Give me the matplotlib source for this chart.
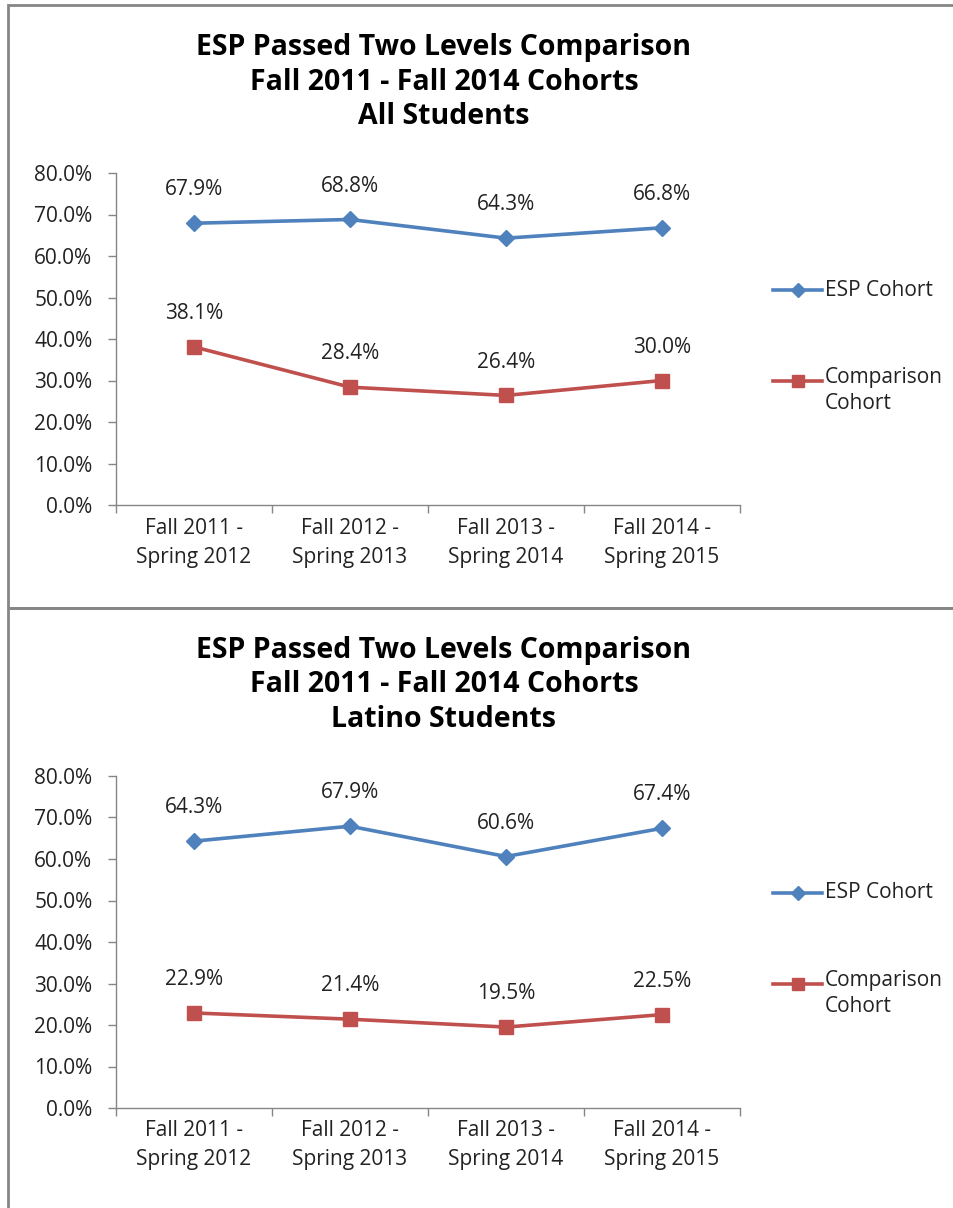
import matplotlib
matplotlib.use("Agg")
import matplotlib.pyplot as plt
from matplotlib.lines import Line2D
from matplotlib.patches import Rectangle
from matplotlib.ticker import FixedLocator, FuncFormatter

plt.rcParams['font.family'] = ['Open Sans', 'DejaVu Sans']

categories = ["Fall 2011 -\nSpring 2012", "Fall 2012 -\nSpring 2013",
              "Fall 2013 -\nSpring 2014", "Fall 2014 -\nSpring 2015"]
series_names = ["ESP Cohort", "Comparison\nCohort"]
titles = ["ESP Passed Two Levels Comparison\nFall 2011 - Fall 2014 Cohorts\nAll Students",
          "ESP Passed Two Levels Comparison\nFall 2011 - Fall 2014 Cohorts\nLatino Students"]
all_esp = [67.9, 68.8, 64.3, 66.8]
all_comp = [38.1, 28.4, 26.4, 30.0]
latino_esp = [64.3, 67.9, 60.6, 67.4]
latino_comp = [22.9, 21.4, 19.5, 22.5]
y_ticks = [0, 10, 20, 30, 40, 50, 60, 70, 80]

W, H = 954, 1208
fig = plt.figure(figsize=(W / 100, H / 100), dpi=100)

BLUE = "#4F81BD"
RED = "#C0504D"
GRAY = "#868686"
TXT = "#222222"
FS = 15

def fx(px):
    return px / W

def fy(py):
    return 1 - py / H

# panel borders
fig.patches.append(Rectangle((fx(8), fy(608)), fx(960) - fx(8), fy(5) - fy(608),
                             transform=fig.transFigure, fill=False, edgecolor=GRAY, lw=2))
fig.patches.append(Rectangle((fx(8), fy(1215)), fx(960) - fx(8), fy(608) - fy(1215),
                             transform=fig.transFigure, fill=False, edgecolor=GRAY, lw=2))

panels = [
    (titles[0], all_esp, all_comp, 5),
    (titles[1], latino_esp, latino_comp, 608),
]

for title, esp, comp, top in panels:
    ax_top = top + 168
    ax_bot = top + 500
    ax = fig.add_axes([fx(116), fy(ax_bot), fx(740) - fx(116), fy(ax_top) - fy(ax_bot)])
    x = list(range(len(categories)))
    ax.plot(x, esp, color=BLUE, lw=2.6, marker="D", ms=8, mfc=BLUE, mec=BLUE, zorder=3)
    ax.plot(x, comp, color=RED, lw=2.6, marker="s", ms=10, mfc=RED, mec=RED, zorder=3)
    for xi, v in zip(x, esp):
        ax.annotate(f"{v:.1f}%", (xi, v), xytext=(0, 24), textcoords="offset points",
                    ha="center", va="center", fontsize=FS, color=TXT)
    for xi, v in zip(x, comp):
        ax.annotate(f"{v:.1f}%", (xi, v), xytext=(0, 24), textcoords="offset points",
                    ha="center", va="center", fontsize=FS, color=TXT)
    ax.set_xlim(-0.5, len(categories) - 0.5)
    ax.set_ylim(0, 80)
    ax.set_yticks(y_ticks)
    ax.yaxis.set_major_formatter(FuncFormatter(lambda v, p: f"{v:.1f}%"))
    ax.xaxis.set_major_locator(FixedLocator([i - 0.5 for i in range(len(categories) + 1)]))
    ax.xaxis.set_minor_locator(FixedLocator(x))
    ax.set_xticklabels([""] * (len(categories) + 1))
    ax.set_xticklabels(categories, minor=True)
    ax.tick_params(axis="x", which="major", length=6, width=1, color=GRAY, direction="out")
    ax.tick_params(axis="x", which="minor", length=0, pad=9, labelsize=FS, labelcolor=TXT)
    ax.tick_params(axis="y", length=6, width=1, color=GRAY, direction="out", pad=11,
                   labelsize=FS, labelcolor=TXT)
    for lbl in ax.get_xticklabels(minor=True):
        lbl.set_linespacing(1.5)
    for s in ["top", "right"]:
        ax.spines[s].set_visible(False)
    for s in ["left", "bottom"]:
        ax.spines[s].set_color(GRAY)
        ax.spines[s].set_linewidth(1)
    fig.text(fx(444), fy(top + 77), title, ha="center", va="center", fontsize=20.5,
             fontweight="bold", linespacing=1.25, color="black")
    # legend
    ly1 = top + 285
    ly2 = top + 376
    fig.add_artist(Line2D([fx(773), fx(822)], [fy(ly1), fy(ly1)], color=BLUE, lw=2.6,
                          transform=fig.transFigure))
    fig.add_artist(Line2D([fx(797.5)], [fy(ly1)], color=BLUE, marker="D", ms=7, lw=0,
                          transform=fig.transFigure))
    fig.add_artist(Line2D([fx(773), fx(822)], [fy(ly2), fy(ly2)], color=RED, lw=2.6,
                          transform=fig.transFigure))
    fig.add_artist(Line2D([fx(797.5)], [fy(ly2)], color=RED, marker="s", ms=9, lw=0,
                          transform=fig.transFigure))
    fig.text(fx(825), fy(ly1), series_names[0], ha="left", va="center", fontsize=FS, color=TXT)
    fig.text(fx(825), fy(ly2 - 14), series_names[1], ha="left", va="top", fontsize=FS,
             color=TXT, linespacing=1.3)

fig.savefig("out.png", dpi=100, facecolor="white")
